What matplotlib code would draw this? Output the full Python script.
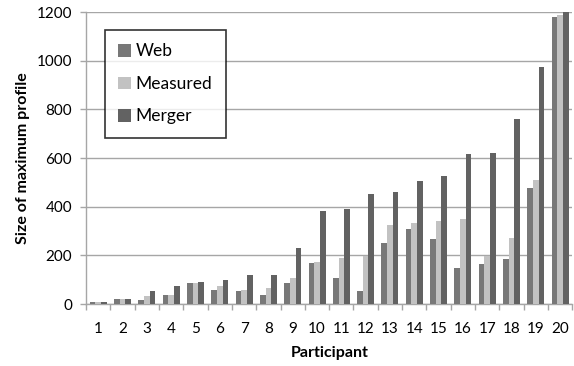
import matplotlib.pyplot as plt
import numpy as np

plt.rcParams['font.family'] = ['Lato', 'DejaVu Sans']

participants = [str(i) for i in range(1, 21)]
web = [10, 23, 18, 38, 85, 59, 52, 38, 88, 170,
       108, 52, 252, 307, 266, 149, 163, 184, 478, 1181]
measured = [10, 23, 34, 38, 85, 74, 58, 66, 107, 175,
            190, 197, 327, 334, 341, 348, 197, 273, 512, 1188]
merger = [10, 23, 53, 74, 93, 101, 121, 121, 232, 382,
          389, 451, 459, 505, 526, 615, 622, 760, 973, 1205]

c_web = '#787878'
c_meas = '#c2c2c2'
c_merg = '#626262'
c_axis = '#a6a6a6'

fig = plt.figure(figsize=(5.74, 3.66), dpi=100, facecolor='white')
ax = fig.add_axes([0.150, 0.169, 0.847, 0.798])

x = np.arange(len(participants))
w = 0.233
ax.bar(x - w, web, w, color=c_web, label='Web', zorder=3)
ax.bar(x, measured, w, color=c_meas, label='Measured', zorder=3)
ax.bar(x + w, merger, w, color=c_merg, label='Merger', zorder=3)

ax.set_xlim(-0.5, len(participants) - 0.5)
ax.set_ylim(0, 1200)
ax.set_yticks(range(0, 1201, 200))
ax.yaxis.grid(True, color=c_axis, linewidth=1.0, zorder=0)
ax.set_axisbelow(True)

# category labels in the middle, tick marks on the boundaries
ax.set_xticks(x)
ax.set_xticklabels(participants)
ax.set_xticks(np.arange(-0.5, len(participants)), minor=True)
ax.tick_params(axis='x', which='major', length=0, pad=13, labelsize=11)
ax.tick_params(axis='x', which='minor', length=4, color=c_axis, width=1)
ax.tick_params(axis='y', length=4, color=c_axis, width=1, labelsize=11, pad=6)

for side in ['top', 'right']:
    ax.spines[side].set_visible(False)
for side in ['left', 'bottom']:
    ax.spines[side].set_color(c_axis)
    ax.spines[side].set_linewidth(1.0)

ax.set_xlabel('Participant', fontweight='bold', fontsize=11.5, labelpad=7)
ax.set_ylabel('Size of maximum profile', fontweight='bold', fontsize=11.5, labelpad=5)

leg = ax.legend(loc='upper left', bbox_to_anchor=(0.038, 0.94), fontsize=12.5,
                frameon=True, fancybox=False, edgecolor='black',
                handlelength=0.75, handleheight=0.75, handletextpad=0.25,
                labelspacing=0.95, borderpad=0.8, borderaxespad=0)
leg.get_frame().set_linewidth(1.2)
leg.set_zorder(5)

fig.savefig('out.png', dpi=100, facecolor='white')
